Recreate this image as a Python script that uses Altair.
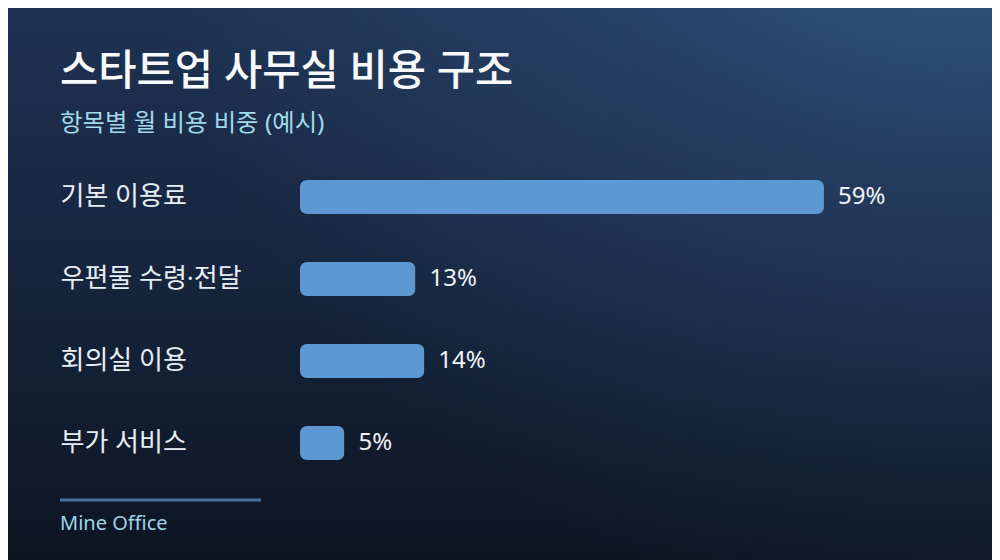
import altair as alt
import pandas as pd

# ---- data ----
categories = ["기본 이용료", "우편물 수령·전달", "회의실 이용", "부가 서비스"]
shares = [59, 13, 14, 5]
value_labels = ["59%", "13%", "14%", "5%"]

title_text = "스타트업 사무실 비용 구조"
subtitle_text = "항목별 월 비용 비중 (예시)"
footer_text = "Mine Office"

FONT = "Noto Sans, Noto Sans CJK KR"

df = pd.DataFrame({"category": categories, "share": shares, "label": value_labels})
one = pd.DataFrame({"k": [0]})

W, H = 680, 328
PAD = {"left": 292, "top": 148, "right": 12, "bottom": 76}

x_scale = alt.Scale(domain=[0, 76.57], nice=False, zero=True)
y_enc = alt.Y(
    "category:N",
    sort=categories,
    scale=alt.Scale(paddingInner=0, paddingOuter=0),
    axis=alt.Axis(
        title=None, domain=False, ticks=False, grid=False,
        labelAlign="left", labelPadding=240, labelFontSize=26,
        labelFont=FONT, labelColor="#e8eef5", labelBaseline="middle",
        labelLimit=300, zindex=1,
    ),
)

bg_linear = alt.Chart(one).mark_rect(
    color=alt.LinearGradient(
        gradient="linear", x1=0, y1=0, x2=0, y2=1,
        stops=[
            alt.GradientStop(offset=0, color="#1e3252"),
            alt.GradientStop(offset=0.5, color="#16243c"),
            alt.GradientStop(offset=1, color="#0d1522"),
        ],
    )
).encode(
    x=alt.value(-PAD["left"]), x2=alt.value(W + PAD["right"]),
    y=alt.value(-PAD["top"]), y2=alt.value(H + PAD["bottom"]),
)

bg_glow = alt.Chart(one).mark_rect(
    color=alt.RadialGradient(
        gradient="radial", x1=0.97, y1=0.0, r1=0, x2=0.97, y2=0.0, r2=0.85,
        stops=[
            alt.GradientStop(offset=0, color="rgba(62,104,156,0.8)"),
            alt.GradientStop(offset=0.45, color="rgba(62,104,156,0.3)"),
            alt.GradientStop(offset=1, color="rgba(62,104,156,0)"),
        ],
    )
).encode(
    x=alt.value(-PAD["left"]), x2=alt.value(W + PAD["right"]),
    y=alt.value(-PAD["top"]), y2=alt.value(H + PAD["bottom"]),
)

bars = alt.Chart(df).mark_bar(
    size=34, cornerRadius=7, color="#5e98d2"
).encode(
    x=alt.X("share:Q", scale=x_scale, axis=None),
    y=y_enc,
)

values = alt.Chart(df).mark_text(
    align="left", baseline="middle", dx=14, fontSize=24, font=FONT,
    color="#f0f4f8",
).encode(
    x=alt.X("share:Q", scale=x_scale),
    y=alt.Y("category:N", sort=categories),
    text="label:N",
)

title = alt.Chart(pd.DataFrame({"t": [title_text]})).mark_text(
    align="left", baseline="alphabetic", fontSize=41.6, fontWeight=500,
    font=FONT, color="#f7f9fc",
).encode(x=alt.value(-240), y=alt.value(-71), text="t:N")

subtitle = alt.Chart(pd.DataFrame({"t": [subtitle_text]})).mark_text(
    align="left", baseline="alphabetic", fontSize=24.4, font=FONT,
    color="#a3d9ea",
).encode(x=alt.value(-240), y=alt.value(-25), text="t:N")

rule = alt.Chart(one).mark_rule(color="#4a729f", strokeWidth=3).encode(
    x=alt.value(-240), x2=alt.value(-39), y=alt.value(344)
)

footer = alt.Chart(pd.DataFrame({"t": [footer_text]})).mark_text(
    align="left", baseline="alphabetic", fontSize=20, font=FONT,
    color="#9fd4e6",
).encode(x=alt.value(-240), y=alt.value(374), text="t:N")

chart = alt.layer(
    bg_linear, bg_glow, bars, values, title, subtitle, rule, footer
).properties(
    width=W, height=H, padding=PAD,
    autosize=alt.AutoSizeParams(type="none"),
    background="#0d1522",
).configure_view(stroke=None)

chart.save("out.html", embed_options={"renderer": "svg", "actions": False})
